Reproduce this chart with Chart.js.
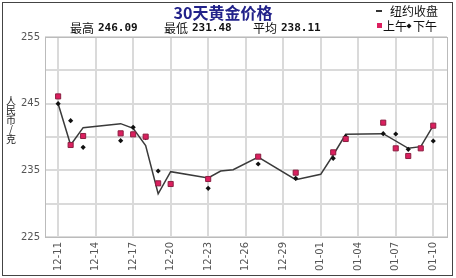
<!DOCTYPE html>
<html>
<head>
<meta charset="utf-8">
<script src="https://cdn.jsdelivr.net/npm/chart.js@4/dist/chart.umd.min.js"></script>
<style>
  body { margin: 0; background: #fff; }
  #wrap { width: 456px; height: 278px; }
</style>
</head>
<body>
<div id="wrap"><canvas id="goldChart" width="456" height="278"></canvas></div>
<script>
// 30 days, 12-11 .. 01-10
const dates = ['12-11','12-12','12-13','12-14','12-15','12-16','12-17','12-18','12-19','12-20',
  '12-21','12-22','12-23','12-24','12-25','12-26','12-27','12-28','12-29','12-30','12-31',
  '01-01','01-02','01-03','01-04','01-05','01-06','01-07','01-08','01-09','01-10']

// 纽约收盘
const nyClose = [245.0, 238.8, 241.4, null, null, 242.0, 241.3, 238.7, 231.48, 234.8,
  null, null, 233.85, 234.9, 235.1, null, 237.0, null, null, 233.6, null,
  234.4, 237.3, 240.4, null, null, 240.5, null, 238.3, 238.55, 241.7]

// 上午
const amPrice = [246.09, 238.8, 240.15, null, null, 240.55, 240.4, 240.05, 233.05, 232.95,
  null, null, 233.7, null, null, null, 237.05, null, null, 234.65, null,
  null, 237.7, 239.7, null, null, 242.15, 238.3, 237.15, 238.3, 241.7]

// 下午
const pmPrice = [245.0, 242.45, 238.45, null, null, 239.45, 241.45, 239.9, 234.9, null,
  null, null, 232.3, null, null, null, 235.95, null, null, 233.8, null,
  null, 236.8, 240.05, null, null, 240.5, 240.45, 238.15, null, 239.4]

const yTicks = [225, 235, 245, 255]
const stats = { high: '246.09', low: '231.48', avg: '238.11' }

const toPoints = arr => arr.map((v, i) => ({ x: i, y: v }))

const cjk = '"Noto Sans CJK SC", "DejaVu Sans", sans-serif'

const header = {
  id: 'header',
  afterDraw(chart) {
    const c = chart.ctx
    c.save()
    // frame
    c.strokeStyle = '#444'
    c.lineWidth = 1
    c.strokeRect(2.5, 2.5, 450, 273)
    // plot border
    const a = chart.chartArea
    c.strokeStyle = '#bbb'
    c.strokeRect(a.left + 0.5, a.top + 0.5, a.right - a.left, a.bottom - a.top)

    c.textBaseline = 'middle'
    c.fillStyle = '#22228a'
    c.font = 'bold 16px ' + cjk
    c.textAlign = 'center'
    c.fillText('30天黄金价格', 223, 13)

    c.textAlign = 'left'
    c.fillStyle = '#111'
    const row = [['最高', stats.high, 70], ['最低', stats.low, 164], ['平均', stats.avg, 253]]
    row.forEach(([k, v, x]) => {
      c.font = '12px ' + cjk
      c.fillText(k, x, 28)
      c.font = 'bold 11px "DejaVu Sans Mono", monospace'
      c.fillText(v, x + 28, 28)
    })

    // legend
    c.font = '12px ' + cjk
    c.fillStyle = '#333'
    c.fillRect(376, 10, 6, 2)
    c.fillStyle = '#111'
    c.fillText('纽约收盘', 390, 11)
    c.fillStyle = '#dc1f5f'
    c.fillRect(377, 23, 5, 5)
    c.fillStyle = '#111'
    c.fillText('上午', 383, 26)
    c.beginPath()
    c.moveTo(409, 23.5); c.lineTo(411.5, 26); c.lineTo(409, 28.5); c.lineTo(406.5, 26); c.closePath()
    c.fill()
    c.fillText('下午', 413, 26)

    // y title, stacked upright
    c.font = '10px ' + cjk
    c.textAlign = 'center'
    c.fillStyle = '#222'
    const yl = ['人', '民', '币', '/', '克']
    yl.forEach((ch, i) => c.fillText(ch, 11, 101 + i * 9.5))
    c.restore()
  }
}

const ctx = document.getElementById('goldChart').getContext('2d')
const goldChart = new Chart(ctx, {
  type: 'line',
  data: {
    datasets: [{
      label: '上午',
      data: toPoints(amPrice),
      showLine: false,
      pointStyle: 'rect',
      pointRadius: 3.6,
      backgroundColor: '#dc1f5f',
      borderColor: '#8a1f40',
      borderWidth: 1,
      order: 1
    },
    {
      label: '下午',
      data: toPoints(pmPrice),
      showLine: false,
      pointStyle: 'rectRot',
      pointRadius: 2.6,
      backgroundColor: '#111',
      borderColor: '#111',
      borderWidth: 0,
      order: 2
    },
    {
      label: '纽约收盘',
      data: toPoints(nyClose),
      spanGaps: true,
      borderColor: '#3a3a3a',
      borderWidth: 1.5,
      pointRadius: 0,
      tension: 0,
      order: 3
    }]
  },
  options: {
    responsive: false,
    animation: false,
    layout: { padding: { top: 37, right: 9, left: 0, bottom: 0 } },
    plugins: {
      legend: { display: false },
      tooltip: { enabled: false }
    },
    scales: {
      x: {
        type: 'linear',
        min: -1.05,
        max: 31.1,
        afterBuildTicks: s => { s.ticks = dates.map((d, i) => ({ value: i })).filter(t => t.value % 3 === 0) },
        afterFit: s => { s.height = 41 },
        grid: { color: '#dadada', lineWidth: 2, drawTicks: false },
        border: { display: false },
        ticks: {
          autoSkip: false,
          minRotation: 90,
          maxRotation: 90,
          padding: 5,
          color: '#555',
          font: { size: 10, family: '"DejaVu Sans", sans-serif' },
          callback: v => dates[v]
        }
      },
      y: {
        min: 225,
        max: 255,
        afterBuildTicks: s => { s.ticks = [225, 230, 235, 240, 245, 250, 255].map(v => ({ value: v })) },
        afterFit: s => { s.width = 45 },
        grid: { color: '#dadada', lineWidth: 2, drawTicks: false },
        border: { display: false },
        ticks: {
          padding: 5,
          color: '#555',
          font: { size: 10, family: '"DejaVu Sans", sans-serif' },
          callback: v => yTicks.includes(v) ? String(v) : ''
        }
      }
    }
  },
  plugins: [header]
})
</script>
</body>
</html>
